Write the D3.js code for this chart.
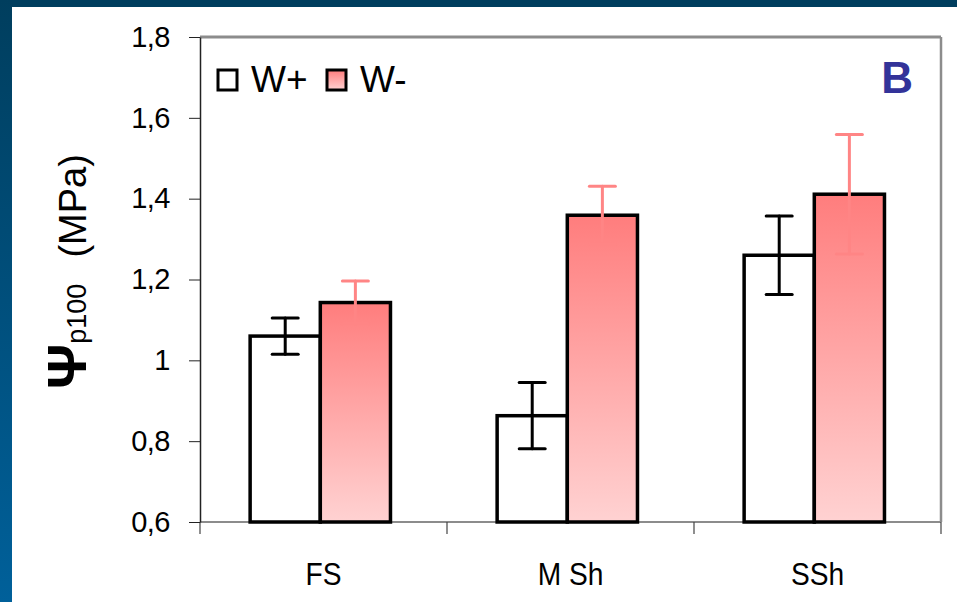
<!DOCTYPE html>
<html>
<head>
<meta charset="utf-8">
<script src="https://cdn.jsdelivr.net/npm/d3@7"></script>
<style>
    body { margin: 0; background: #fff; }
    svg { display: block; font-family: "Liberation Sans", Arial, sans-serif; }
</style>
</head>
<body>
<div id="chart"></div>
<script>
// data
const categories = ["FS", "M Sh", "SSh"];
const seriesNames = ["W+", "W-"];
const wPlus = [1.06, 0.863, 1.26];
const wPlusErr = [0.045, 0.082, 0.097];
const wMinus = [1.143, 1.359, 1.411];
const wMinusErr = [0.053, 0.072, 0.148];
const yTicks = [0.6, 0.8, 1, 1.2, 1.4, 1.6, 1.8];

const width = 957;
const height = 602;
const margin = { top: 37, right: 16, bottom: 80, left: 200 };

const svg = d3.select('#chart')
    .append('svg')
    .attr('width', width)
    .attr('height', height);

const defs = svg.append('defs');

// frame gradient (left band)
const frameGrad = defs.append('linearGradient')
    .attr('id', 'frameGrad')
    .attr('x1', 0).attr('y1', 0).attr('x2', 0).attr('y2', 1);
frameGrad.append('stop').attr('offset', '0%').attr('stop-color', '#003e5e');
frameGrad.append('stop').attr('offset', '100%').attr('stop-color', '#00609a');

// bar gradient for W-
const barGrad = defs.append('linearGradient')
    .attr('id', 'barGrad')
    .attr('x1', 0).attr('y1', 0).attr('x2', 0).attr('y2', 1);
barGrad.append('stop').attr('offset', '0%').attr('stop-color', '#ff7d7d');
barGrad.append('stop').attr('offset', '100%').attr('stop-color', '#ffd2d2');

// dark frame
svg.append('rect').attr('x', 0).attr('y', 0).attr('width', width).attr('height', 7)
    .attr('fill', '#003e5e');
svg.append('rect').attr('x', 0).attr('y', 0).attr('width', 12).attr('height', height)
    .attr('fill', 'url(#frameGrad)');

// scales
const x = d3.scaleBand()
    .domain(categories)
    .range([margin.left, width - margin.right])
    .paddingInner(0)
    .paddingOuter(0);

const xSub = d3.scaleBand()
    .domain(seriesNames)
    .range([0, x.bandwidth()])
    .paddingInner(0)
    .paddingOuter(0.76)
    .align(0.47);

const y = d3.scaleLinear()
    .domain([0.6, 1.8])
    .range([height - margin.bottom, margin.top]);

const fmt = d => String(d).replace('.', ',');

// plot frame (top + right grey)
svg.append('line')
    .attr('x1', x.range()[0]).attr('x2', x.range()[1])
    .attr('y1', y(1.8)).attr('y2', y(1.8))
    .attr('stroke', '#8c8c8c').attr('stroke-width', 3);
svg.append('line')
    .attr('x1', x.range()[1]).attr('x2', x.range()[1])
    .attr('y1', y(1.8)).attr('y2', y(0.6))
    .attr('stroke', '#8c8c8c').attr('stroke-width', 2.5);

// x axis: grey base line + category boundary ticks
svg.append('line')
    .attr('x1', x.range()[0]).attr('x2', x.range()[1])
    .attr('y1', y(0.6)).attr('y2', y(0.6))
    .attr('stroke', '#8c8c8c').attr('stroke-width', 2);

const bounds = categories.map(c => x(c)).concat([x.range()[1]]);
svg.selectAll('.xtick')
    .data(bounds)
    .enter()
    .append('line')
    .attr('class', 'xtick')
    .attr('x1', d => d).attr('x2', d => d)
    .attr('y1', y(0.6)).attr('y2', y(0.6) + 12)
    .attr('stroke', '#444').attr('stroke-width', 1.2);

// category labels, slightly condensed like the original
svg.selectAll('.xlabel')
    .data(categories)
    .enter()
    .append('text')
    .attr('class', 'xlabel')
    .attr('transform', d => `translate(${x(d) + x.bandwidth() / 2}, 585) scale(0.88, 1)`)
    .attr('text-anchor', 'middle')
    .attr('font-size', 32)
    .attr('fill', '#000')
    .text(d => d);

// y axis
const yAxis = d3.axisLeft(y)
    .tickValues(yTicks)
    .tickFormat(fmt)
    .tickSize(11)
    .tickSizeOuter(0)
    .tickPadding(19);

const yg = svg.append('g')
    .attr('transform', `translate(${margin.left}, 0)`)
    .call(yAxis);
yg.select('.domain').attr('stroke', '#222').attr('stroke-width', 1.5);
yg.selectAll('.tick line').attr('stroke', '#222').attr('stroke-width', 1);
yg.selectAll('.tick text')
    .attr('font-size', 29)
    .attr('letter-spacing', -0.5)
    .attr('fill', '#000');

// bars
const rows = categories.map((c, i) => ({
    cat: c,
    items: [
        { s: 'W+', v: wPlus[i], e: wPlusErr[i] },
        { s: 'W-', v: wMinus[i], e: wMinusErr[i] }
    ]
}));

const groups = svg.selectAll('.grp')
    .data(rows)
    .enter()
    .append('g')
    .attr('class', 'grp')
    .attr('transform', d => `translate(${x(d.cat)}, 0)`);

groups.selectAll('rect')
    .data(d => d.items)
    .enter()
    .append('rect')
    .attr('x', d => xSub(d.s))
    .attr('y', d => y(d.v))
    .attr('width', xSub.bandwidth())
    .attr('height', d => y(0.6) - y(d.v))
    .attr('fill', d => d.s === 'W+' ? '#fff' : 'url(#barGrad)')
    .attr('stroke', '#000')
    .attr('stroke-width', 3.5);

// error bars
const errColor = s => s === 'W+' ? '#000' : '#ff8585';
const capW = 13;

const err = groups.selectAll('.err')
    .data(d => d.items)
    .enter()
    .append('g')
    .attr('class', 'err')
    .attr('stroke', d => errColor(d.s))
    .attr('stroke-width', 3)
    .attr('stroke-linecap', 'round');

err.append('line')
    .attr('x1', d => xSub(d.s) + xSub.bandwidth() / 2)
    .attr('x2', d => xSub(d.s) + xSub.bandwidth() / 2)
    .attr('y1', d => y(d.v + d.e))
    .attr('y2', d => y(d.v - d.e));
err.append('line')
    .attr('x1', d => xSub(d.s) + xSub.bandwidth() / 2 - capW)
    .attr('x2', d => xSub(d.s) + xSub.bandwidth() / 2 + capW)
    .attr('y1', d => y(d.v + d.e))
    .attr('y2', d => y(d.v + d.e));
err.append('line')
    .attr('x1', d => xSub(d.s) + xSub.bandwidth() / 2 - capW)
    .attr('x2', d => xSub(d.s) + xSub.bandwidth() / 2 + capW)
    .attr('y1', d => y(d.v - d.e))
    .attr('y2', d => y(d.v - d.e));

// legend
const legend = svg.append('g').attr('transform', 'translate(218, 70)');
const legX = [0, 109];
seriesNames.forEach((s, i) => {
    legend.append('rect')
        .attr('x', legX[i]).attr('y', 0)
        .attr('width', 19).attr('height', 20)
        .attr('fill', s === 'W+' ? '#fff' : 'url(#barGrad)')
        .attr('stroke', '#000')
        .attr('stroke-width', 3);
    legend.append('text')
        .attr('x', legX[i] + 33)
        .attr('y', 22)
        .attr('font-size', 37)
        .attr('fill', '#000')
        .text(s);
});

// panel letter
svg.append('text')
    .attr('x', 913)
    .attr('y', 93)
    .attr('text-anchor', 'end')
    .attr('font-size', 44)
    .attr('font-weight', 'bold')
    .attr('fill', '#333399')
    .text('B');

// y title
const yTitle = svg.append('text')
    .attr('transform', 'translate(86, 389) rotate(-90)')
    .attr('fill', '#000');
yTitle.append('tspan')
    .attr('font-size', 56)
    .attr('font-weight', 'bold')
    .text('Ψ');
yTitle.append('tspan')
    .attr('font-size', 27)
    .text('p100');
yTitle.append('tspan')
    .attr('dx', 26)
    .attr('font-size', 38)
    .text('(MPa)');
</script>
</body>
</html>
